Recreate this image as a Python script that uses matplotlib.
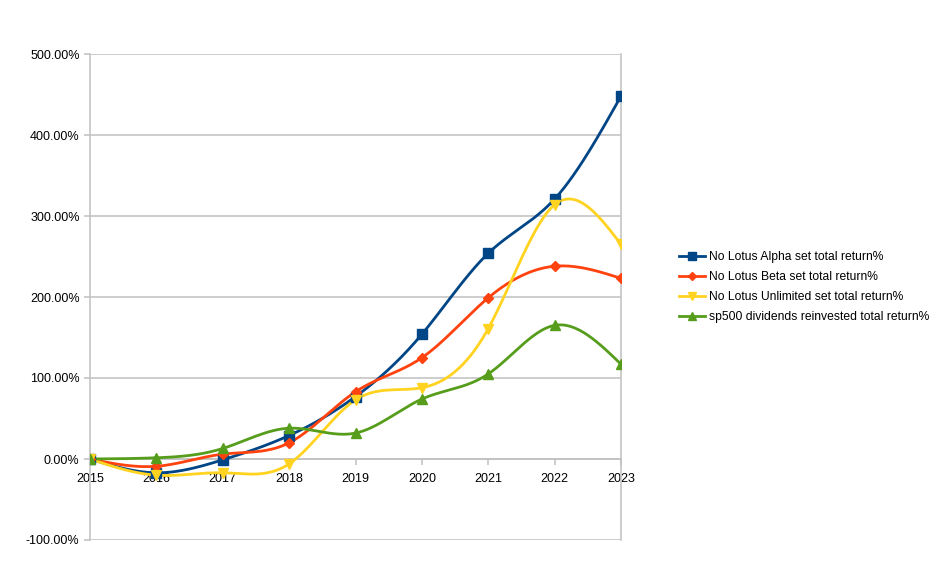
import numpy as np
import matplotlib
matplotlib.use("Agg")
import matplotlib.pyplot as plt

plt.rcParams['font.family'] = ['Liberation Sans', 'DejaVu Sans']

years = [2015, 2016, 2017, 2018, 2019, 2020, 2021, 2022, 2023]
alpha = [0, -17, -1, 29, 77, 154, 254, 321, 448]
beta = [0, -9, 6, 20, 83, 125, 199, 238, 223]
unlimited = [0, -20, -17, -6, 73, 88, 161, 314, 265]
sp500 = [0, 1.5, 13, 38, 32, 74, 105, 165, 117]

names = ["No Lotus Alpha set total return%",
         "No Lotus Beta set total return%",
         "No Lotus Unlimited set total return%",
         "sp500 dividends reinvested total return%"]
colors = ["#004586", "#ff420e", "#ffd320", "#579d1c"]
markers = ["s", "D", "v", "^"]
msizes = [7, 5.5, 7, 7]


def natural_spline(x, y, n=400):
    # plain natural cubic spline, like the smoothed lines of the office chart
    x = np.asarray(x, float)
    y = np.asarray(y, float)
    k = len(x)
    h = np.diff(x)
    A = np.zeros((k, k))
    b = np.zeros(k)
    A[0, 0] = 1
    A[-1, -1] = 1
    for i in range(1, k - 1):
        A[i, i - 1] = h[i - 1]
        A[i, i] = 2 * (h[i - 1] + h[i])
        A[i, i + 1] = h[i]
        b[i] = 3 * ((y[i + 1] - y[i]) / h[i] - (y[i] - y[i - 1]) / h[i - 1])
    c = np.linalg.solve(A, b)
    xs = np.linspace(x[0], x[-1], n)
    ys = np.empty_like(xs)
    for j, xv in enumerate(xs):
        i = min(np.searchsorted(x, xv, side='right') - 1, k - 2)
        dx = xv - x[i]
        bi = (y[i + 1] - y[i]) / h[i] - h[i] * (2 * c[i] + c[i + 1]) / 3
        di = (c[i + 1] - c[i]) / (3 * h[i])
        ys[j] = y[i] + bi * dx + c[i] * dx ** 2 + di * dx ** 3
    return xs, ys


fig = plt.figure(figsize=(9.37, 5.65), dpi=100)
ax = fig.add_axes([90 / 937, 1 - 540 / 565, (621 - 90) / 937, (540 - 54) / 565])

series = [alpha, beta, unlimited, sp500]
for vals, name, col, mk, ms in zip(series, names, colors, markers, msizes):
    xs, ys = natural_spline(years, vals)
    ax.plot(xs, ys, color=col, lw=2, zorder=3)
    ax.plot(years, vals, ls='none', marker=mk, ms=ms, color=col, zorder=4)
    # legend proxy
    ax.plot([], [], color=col, lw=2, marker=mk, ms=ms * 0.8, label=name)

ax.set_xlim(2015, 2023)
ax.set_ylim(-100, 500)
yt = np.arange(-100, 501, 100)
ax.set_yticks(yt)
ax.set_yticklabels([f"{v:.2f}%" for v in yt])
ax.set_xticks(years)
ax.set_xticklabels([str(y) for y in years])

ax.grid(axis='y', color='#c0c0c0', lw=1.1)
ax.set_axisbelow(True)
for s in ['left', 'right', 'bottom']:
    ax.spines[s].set_color('#c0c0c0')
    ax.spines[s].set_linewidth(1.1)
ax.spines['top'].set_visible(False)
ax.spines['bottom'].set_position(('data', 0))
ax.tick_params(axis='both', colors='#c0c0c0', labelcolor='black', labelsize=9,
               length=4, width=1.1)
ax.tick_params(axis='x', pad=6)

leg = fig.legend(loc='upper left', bbox_to_anchor=(674 / 937, 1 - 246 / 565),
                 frameon=False, fontsize=8.7, handlelength=2.2, labelspacing=0.68,
                 handletextpad=0.3, borderaxespad=0)

fig.savefig("out.png", dpi=100)
